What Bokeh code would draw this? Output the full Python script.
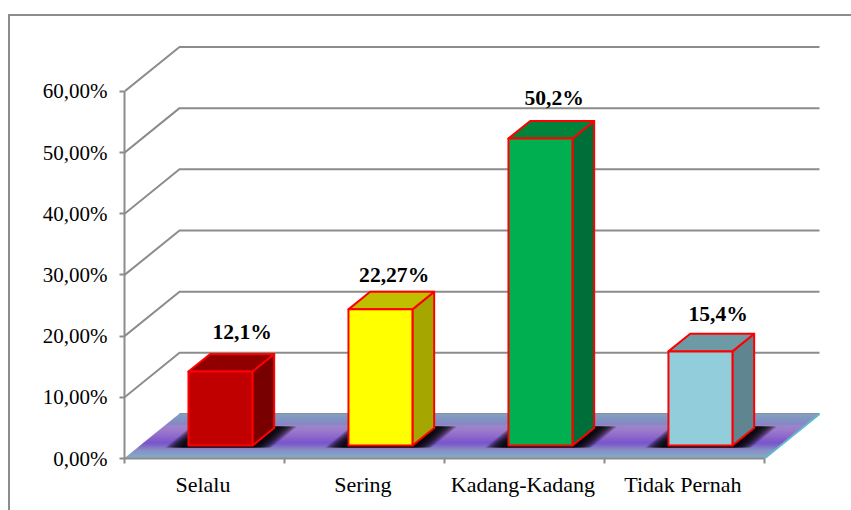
from bokeh.plotting import figure
from bokeh.models import Range1d, FixedTicker, LinearAxis
from bokeh.core.properties import value
from bokeh.embed import file_html
from bokeh.resources import INLINE

categories = ["Selalu", "Sering", "Kadang-Kadang", "Tidak Pernah"]
percent_values = [12.1, 22.27, 50.2, 15.4]
value_labels = ["12,1%", "22,27%", "50,2%", "15,4%"]
y_ticks = [0, 10, 20, 30, 40, 50, 60]
y_tick_labels = ["0,00%", "10,00%", "20,00%", "30,00%", "40,00%", "50,00%", "60,00%"]

front_colors = ["#c00000", "#ffff00", "#00b050", "#92cddc"]
top_colors = ["#900000", "#bfbf00", "#00843c", "#6e9aa5"]
side_colors = ["#780000", "#a6a600", "#006e38", "#5f8590"]
label_shift = [0.0, -0.05, -0.05, -0.025]
label_rise = [22, 17, 23, 20]

FONT = "Liberation Serif"
GREY = "#8c8c8c"
PX_X, PX_Y = 160.0, 6.117          # pixels per category / per percent
W, H = 851, 510
LEFT, BOTTOM = 124, 52
DX, DY = 55 / PX_X, 44.5 / PX_Y    # full floor depth in data units
Z0, Z1 = 0.29, 0.685               # bar depth slots
HALF = 0.2


def proj(cat, val, z):
    return cat + z * DX, val + z * DY


p = figure(width=W, height=H, output_backend="svg", toolbar_location=None,
           x_axis_type=None, y_axis_type=None,
           x_range=Range1d(0, (W - LEFT) / PX_X),
           y_range=Range1d(0, (H - BOTTOM) / PX_Y),
           min_border_left=LEFT, min_border_bottom=BOTTOM,
           min_border_top=0, min_border_right=0,
           background_fill_color=None, border_fill_color=None)
p.outline_line_color = None
p.grid.visible = False
# chart border: the frame line of the picture lies outside the plot area
p.styles = {
    "background-color": "white",
    "background-image": "linear-gradient(#8c8c8c,#8c8c8c),linear-gradient(#8c8c8c,#8c8c8c)",
    "background-size": "843px 2px,2px 496px",
    "background-position": "8px 14px,8px 14px",
    "background-repeat": "no-repeat",
}

# walls
for t in y_ticks[1:]:
    x0, y0 = proj(0, t, 0)
    x1, y1 = proj(0, t, 1)
    x2, y2 = proj(4, t, 1)
    p.line([x0, x1, x2], [y0, y1, y2], line_color=GREY, line_width=2)
x1, y1 = proj(0, 0, 1)
x2, y2 = proj(4, 0, 1)
p.line([x1, x2], [y1, y2], line_color=GREY, line_width=2)

# floor gradient, back to front
stops = [(0.0, (0x84, 0x9f, 0xc0)), (0.16, (0x84, 0x90, 0xc4)), (0.36, (0x9a, 0x74, 0xc8)),
         (0.66, (0x74, 0x4c, 0xc8)), (0.84, (0x80, 0x8c, 0xc0)), (1.0, (0x7e, 0xa6, 0xc4))]


def grad(t):
    for (a, ca), (b, cb) in zip(stops, stops[1:]):
        if t <= b:
            f = (t - a) / (b - a)
            return "#%02x%02x%02x" % tuple(round(u + (v - u) * f) for u, v in zip(ca, cb))
    return "#7ea6c4"


N = 44
for i in range(N):
    z1, z0 = 1 - i / N, 1 - (i + 1) / N
    a, b = proj(0, 0, z0), proj(4, 0, z0)
    c, d = proj(4, 0, z1), proj(0, 0, z1)
    p.patch([a[0], b[0], c[0], d[0]], [a[1], b[1], c[1], d[1]],
            fill_color=grad(i / (N - 1)), line_color=grad(i / (N - 1)), line_width=0.5)

# floor cyan edge
a, b, c = proj(0, 0, 0), proj(4, 0, 0), proj(4, 0, 1)
p.line([a[0], b[0], c[0]], [a[1], b[1], c[1]], line_color="#5fb8cc", line_width=2)

# shadows and bars
for i, v in enumerate(percent_values):
    cx = i + 0.5
    for k in range(12):
        e = 0.13 - k * 0.01
        za, zb = 0.25, 0.72
        pts = [proj(cx - HALF - e, 0, za), proj(cx + HALF + e, 0, za),
               proj(cx + HALF + e, 0, zb), proj(cx - HALF - e, 0, zb)]
        p.patch([q[0] for q in pts], [q[1] for q in pts],
                fill_color="black", fill_alpha=0.2, line_color=None)

    l, r = cx - HALF, cx + HALF
    faces = [
        ([(r, 0, Z0), (r, 0, Z1), (r, v, Z1), (r, v, Z0)], side_colors[i]),
        ([(l, v, Z0), (r, v, Z0), (r, v, Z1), (l, v, Z1)], top_colors[i]),
        ([(l, 0, Z0), (r, 0, Z0), (r, v, Z0), (l, v, Z0)], front_colors[i]),
    ]
    for pts3, color in faces:
        pts = [proj(*q) for q in pts3]
        p.patch([q[0] for q in pts], [q[1] for q in pts], fill_color=color,
                line_color="#ff0000", line_width=2, line_join="round")

    lx, ly = proj(cx + label_shift[i], v, Z1)
    p.text([lx], [ly + label_rise[i] / PX_Y], text=[value_labels[i]], text_align="center",
           text_baseline="middle", text_font=value(FONT), text_font_style="bold",
           text_font_size="21.6px", text_color="black")

# axes
yax = LinearAxis(ticker=FixedTicker(ticks=y_ticks), bounds=(0, 60),
                 major_label_overrides={t: s for t, s in zip(y_ticks, y_tick_labels)})
yax.axis_line_color = GREY
yax.axis_line_width = 2
yax.major_tick_line_color = GREY
yax.major_tick_line_width = 2
yax.major_tick_out = 5
yax.major_tick_in = 0
yax.minor_tick_line_color = None
yax.major_label_standoff = 12
yax.major_label_text_font = FONT
yax.major_label_text_font_size = "21px"
yax.major_label_text_color = "black"
p.add_layout(yax, "left")

centres = [i + 0.49 for i in range(len(categories))]
xax = LinearAxis(ticker=FixedTicker(ticks=centres, minor_ticks=list(range(len(categories) + 1))),
                 bounds=(0, len(categories)),
                 major_label_overrides={c: s for c, s in zip(centres, categories)})
xax.axis_line_color = GREY
xax.axis_line_width = 2
xax.major_tick_line_color = None
xax.major_tick_out = 0
xax.major_tick_in = 0
xax.minor_tick_line_color = GREY
xax.minor_tick_line_width = 2
xax.minor_tick_out = 5
xax.minor_tick_in = 0
xax.major_label_standoff = 8
xax.major_label_text_font = FONT
xax.major_label_text_font_size = "22px"
xax.major_label_text_color = "black"
p.add_layout(xax, "below")

open("out.html", "w").write(file_html(p, INLINE))
